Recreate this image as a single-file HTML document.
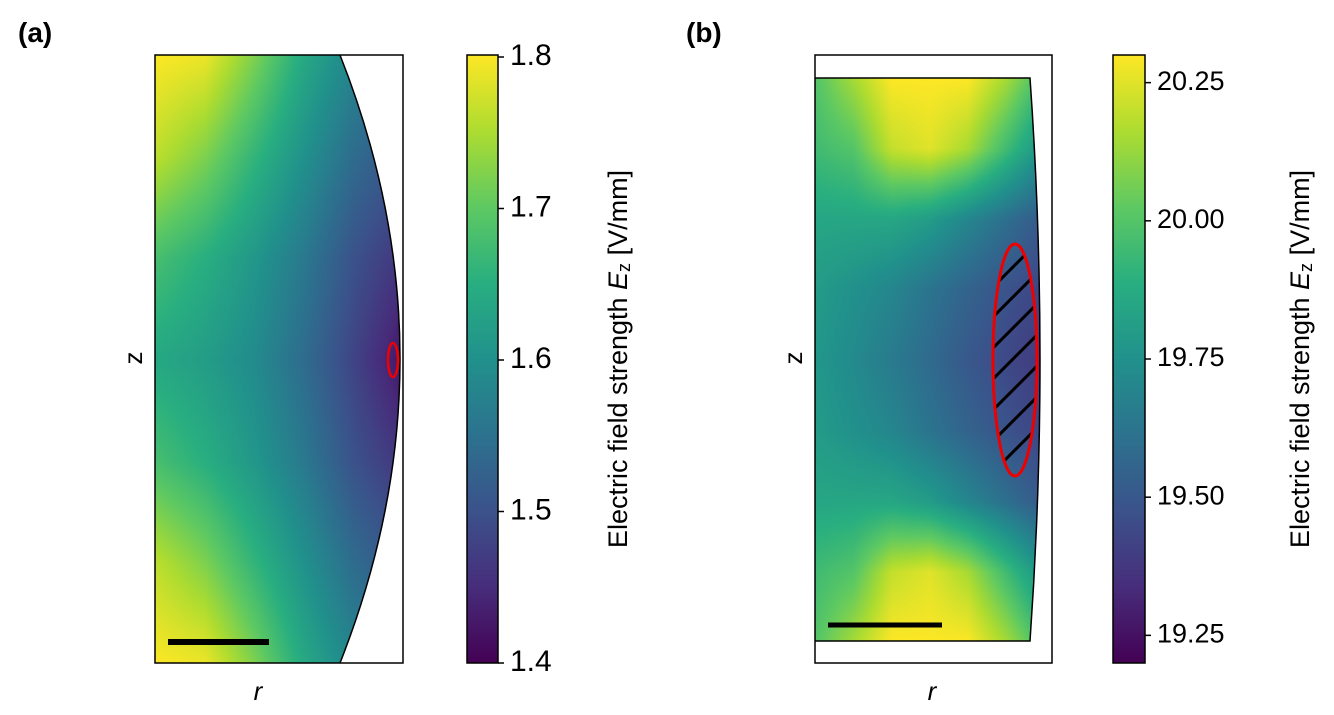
<!DOCTYPE html>
<html><head><meta charset="utf-8"><style>
body{margin:0;background:#fff;width:1334px;height:710px;overflow:hidden;font-family:"Liberation Sans","DejaVu Sans",sans-serif}
</style></head><body>
<svg width="1334" height="710" xmlns="http://www.w3.org/2000/svg">
<defs>
<linearGradient id="vir" x1="0" y1="1" x2="0" y2="0">
<stop offset="0" stop-color="#440154"/><stop offset="0.125" stop-color="#472d7b"/><stop offset="0.25" stop-color="#3b528b"/><stop offset="0.375" stop-color="#2c728e"/><stop offset="0.5" stop-color="#21918c"/><stop offset="0.625" stop-color="#28ae80"/><stop offset="0.75" stop-color="#5ec962"/><stop offset="0.875" stop-color="#addc30"/><stop offset="1" stop-color="#fde725"/>
</linearGradient>
<clipPath id="clipA"><path d="M155,55 L340,55 Q460,359 340,663 L155,663 Z"/></clipPath>
<clipPath id="clipB"><path d="M815,78 L1030,78 Q1050,360 1030,641 L815,641 Z"/></clipPath>
<clipPath id="clipE"><ellipse cx="1015" cy="360" rx="22" ry="116"/></clipPath>
</defs>
<foreignObject x="155" y="55" width="250" height="610" clip-path="url(#clipA)"><canvas id="cA" width="250" height="610" xmlns="http://www.w3.org/1999/xhtml"></canvas></foreignObject>
<foreignObject x="815" y="78" width="230" height="565" clip-path="url(#clipB)"><canvas id="cB" width="230" height="565" xmlns="http://www.w3.org/1999/xhtml"></canvas></foreignObject>

<g>
<text x="18" y="42" font-size="28" font-weight="bold">(a)</text>
<rect x="155" y="55" width="248" height="608" fill="none" stroke="#000" stroke-width="1.5"/>
<path d="M340,55 Q460,359 340,663" fill="none" stroke="#000" stroke-width="1.5"/>
<ellipse cx="393" cy="360" rx="5" ry="17" fill="none" stroke="#e00" stroke-width="2.5"/>
<line x1="168" y1="642" x2="269" y2="642" stroke="#000" stroke-width="6"/>
<text x="135" y="358" font-size="26" text-anchor="middle" transform="rotate(-90 135 358)" dominant-baseline="middle">z</text>
<text x="258" y="700" font-size="26" font-style="italic" text-anchor="middle">r</text>
<rect x="467" y="55" width="31" height="608" fill="url(#vir)" stroke="#000" stroke-width="1.5"/>
<g id="ticksA" font-size="30"></g>
<text x="620" y="359" font-size="27" text-anchor="middle" dominant-baseline="middle" transform="rotate(-90 620 359)">Electric field strength <tspan font-style="italic">E</tspan><tspan font-size="18" dy="5">z</tspan><tspan dy="-5"> [V/mm]</tspan></text>
</g>

<g>
<text x="686" y="42" font-size="28" font-weight="bold">(b)</text>
<rect x="815" y="55" width="237" height="608" fill="none" stroke="#000" stroke-width="1.5"/>
<path d="M815,78 L1030,78 Q1050,360 1030,641 L815,641" fill="none" stroke="#000" stroke-width="1.5"/>
<g clip-path="url(#clipE)" stroke="#000" stroke-width="3">
<line x1="980" y1="300" x2="1060" y2="220"/><line x1="980" y1="330" x2="1060" y2="250"/><line x1="980" y1="361" x2="1060" y2="281"/><line x1="980" y1="392" x2="1060" y2="312"/><line x1="980" y1="423" x2="1060" y2="343"/><line x1="980" y1="454" x2="1060" y2="374"/><line x1="980" y1="485" x2="1060" y2="405"/><line x1="980" y1="516" x2="1060" y2="436"/><line x1="980" y1="270" x2="1060" y2="190"/>
</g>
<ellipse cx="1015" cy="360" rx="22" ry="116" fill="none" stroke="#e00" stroke-width="3"/>
<line x1="828" y1="625" x2="942" y2="625" stroke="#000" stroke-width="5"/>
<text x="795" y="358" font-size="26" text-anchor="middle" transform="rotate(-90 795 358)" dominant-baseline="middle">z</text>
<text x="932" y="700" font-size="26" font-style="italic" text-anchor="middle">r</text>
<rect x="1113" y="55" width="32" height="608" fill="url(#vir)" stroke="#000" stroke-width="1.5"/>
<g id="ticksB" font-size="27"></g>
<text x="1302" y="359" font-size="27" text-anchor="middle" dominant-baseline="middle" transform="rotate(-90 1302 359)">Electric field strength <tspan font-style="italic">E</tspan><tspan font-size="18" dy="5">z</tspan><tspan dy="-5"> [V/mm]</tspan></text>
</g>
</svg>
<script>
const ticksA=[1.4,1.5,1.6,1.7,1.8];
const ticksALabels=["1.4","1.5","1.6","1.7","1.8"];
const rangeA=[1.4,1.8];
const ticksB=[19.25,19.50,19.75,20.00,20.25];
const ticksBLabels=["19.25","19.50","19.75","20.00","20.25"];
const rangeB=[19.2,20.3];
// field samples, rows top->bottom, cols left->right
const fieldA=[
[1.80,1.79,1.72,1.64,1.58,1.55],
[1.76,1.72,1.66,1.60,1.54,1.50],
[1.68,1.65,1.61,1.56,1.50,1.46],
[1.64,1.62,1.59,1.54,1.48,1.42],
[1.68,1.65,1.61,1.56,1.50,1.46],
[1.76,1.72,1.66,1.60,1.54,1.50],
[1.80,1.79,1.72,1.64,1.58,1.55]];
const fieldB=[
[20.00,20.15,20.30,20.30,20.30,20.15,19.95],
[19.95,20.00,20.20,20.25,20.15,19.95,19.75],
[19.85,19.85,19.85,19.80,19.70,19.60,19.50],
[19.80,19.75,19.70,19.62,19.55,19.48,19.42],
[19.78,19.72,19.65,19.58,19.50,19.44,19.38],
[19.80,19.75,19.70,19.62,19.55,19.48,19.42],
[19.85,19.85,19.85,19.80,19.70,19.60,19.50],
[19.95,20.00,20.20,20.25,20.15,19.95,19.75],
[20.00,20.15,20.30,20.30,20.30,20.15,19.95]];
const NS="http://www.w3.org/2000/svg";
const vir=[[68,1,84],[71,45,123],[59,82,139],[44,114,142],[33,145,140],[40,174,128],[94,201,98],[173,220,48],[253,231,37]];
function cmap(t){t=Math.max(0,Math.min(1,t))*8;const i=Math.min(7,Math.floor(t)),f=t-i;return vir[i].map((c,k)=>c+(vir[i+1][k]-c)*f);}
function paint(id,field,range,w,h){
 const c=document.getElementById(id),ctx=c.getContext('2d'),img=ctx.createImageData(w,h);
 const R=field.length-1,C=field[0].length-1;
 for(let y=0;y<h;y++)for(let x=0;x<w;x++){
  const fy=y/(h-1)*R,fx=Math.min(1,x/(w-1))*C;const i=Math.min(R-1,Math.floor(fy)),j=Math.min(C-1,Math.floor(fx));
  const a=fy-i,b=fx-j;
  const v=field[i][j]*(1-a)*(1-b)+field[i][j+1]*(1-a)*b+field[i+1][j]*a*(1-b)+field[i+1][j+1]*a*b;
  const col=cmap((v-range[0])/(range[1]-range[0]));const p=(y*w+x)*4;
  img.data[p]=col[0];img.data[p+1]=col[1];img.data[p+2]=col[2];img.data[p+3]=255;}
 ctx.putImageData(img,0,0);}
paint('cA',fieldA,rangeA,250,610);
paint('cB',fieldB,rangeB,230,565);
function ticks(gid,vals,labels,range,x0,y0,y1){
 const g=document.getElementById(gid);
 vals.forEach((v,i)=>{const y=y1-(v-range[0])/(range[1]-range[0])*(y1-y0);
  const l=document.createElementNS(NS,'line');l.setAttribute('x1',x0);l.setAttribute('x2',x0+6);l.setAttribute('y1',y);l.setAttribute('y2',y);l.setAttribute('stroke','#000');l.setAttribute('stroke-width','1.5');
  
  
  g.appendChild(l);
  const t=document.createElementNS(NS,'text');t.setAttribute('x',x0+12);t.setAttribute('y',y);t.setAttribute('dominant-baseline','middle');t.textContent=labels[i];
  
  
  g.appendChild(t);});}
ticks('ticksA',ticksA,ticksALabels,rangeA,498,57,663);
ticks('ticksB',ticksB,ticksBLabels,rangeB,1145,55,663);
</script>
</body></html>
